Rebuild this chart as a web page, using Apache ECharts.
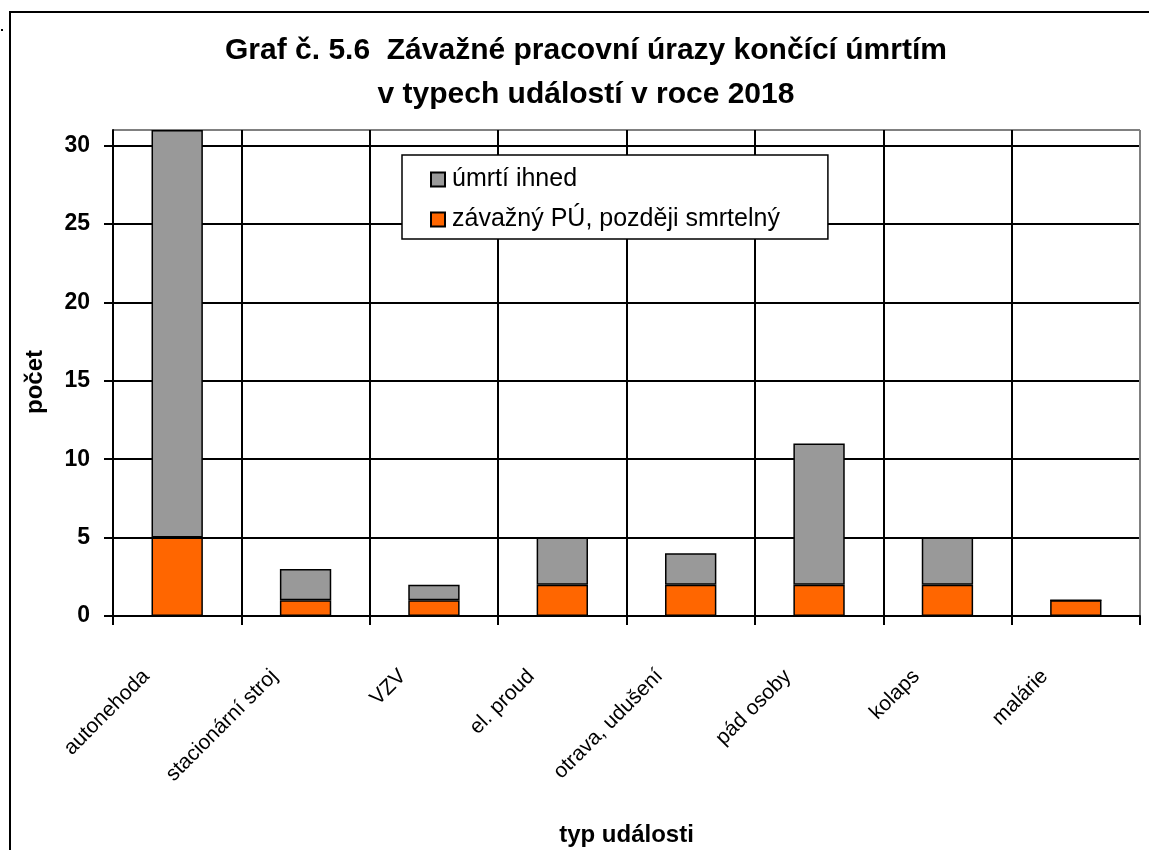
<!DOCTYPE html>
<html>
<head>
<meta charset="utf-8">
<script src="https://cdn.jsdelivr.net/npm/echarts@6/dist/echarts.min.js"></script>
<style>
html,body{margin:0;padding:0;background:#fff;}
#chart{width:1149px;height:850px;}
</style>
</head>
<body>
<div id="chart"></div>
<script>
var categories = ['autonehoda', 'stacionární stroj', 'VZV', 'el. proud', 'otrava, udušení', 'pád osoby', 'kolaps', 'malárie'];
var laterFatal = [5, 1, 1, 2, 2, 2, 2, 1];
var immediateDeath = [26, 2, 1, 3, 2, 9, 3, 0];
var seriesNames = ['úmrtí ihned', 'závažný PÚ, později smrtelný'];
var yTicks = [0, 5, 10, 15, 20, 25, 30];

var FONT = '"Liberation Sans", Arial, sans-serif';
var chart = echarts.init(document.getElementById('chart'), null, {renderer: 'canvas'});

var hLineColors = yTicks.map(function(){ return '#000'; }).concat(['#808080']);
var vLineColors = categories.map(function(){ return '#000'; }).concat(['#808080']);

chart.setOption({
  backgroundColor: '#fff',
  animation: false,
  textStyle: {fontFamily: FONT},
  title: {
    text: 'Graf č. 5.6  Závažné pracovní úrazy končící úmrtím\nv typech událostí v roce 2018',
    left: 581,
    top: 24,
    textAlign: 'center',
    textStyle: {fontFamily: FONT, fontSize: 30, fontWeight: 'bold', color: '#000', lineHeight: 44}
  },
  graphic: [
    {type: 'rect', shape: {x: 10, y: 12, width: 1200, height: 900}, style: {fill: 'none', stroke: '#000', lineWidth: 2}, silent: true},
    {type: 'rect', shape: {x: 1, y: 29, width: 2, height: 2}, style: {fill: '#000'}, silent: true}
  ],
  legend: {
    data: seriesNames,
    orient: 'vertical',
    left: 402,
    top: 155,
    padding: [12, 48, 7, 28],
    itemGap: 15,
    itemWidth: 14,
    itemHeight: 14,
    backgroundColor: '#fff',
    borderColor: '#000',
    borderWidth: 1.5,
    borderRadius: 0,
    icon: 'rect',
    textStyle: {fontFamily: FONT, fontSize: 25, color: '#000', padding: [0, 0, 0, 2]}
  },
  grid: {left: 113, right: 9, top: 130, bottom: 234, containLabel: false, outerBoundsMode: 'none'},
  xAxis: {
    type: 'category',
    data: categories,
    name: 'typ události',
    nameLocation: 'middle',
    nameGap: 207,
    nameTextStyle: {fontFamily: FONT, fontSize: 24, fontWeight: 'bold', color: '#000'},
    axisLine: {show: true, lineStyle: {color: '#000', width: 2}},
    axisTick: {show: true, length: 9, alignWithLabel: false, lineStyle: {color: '#000', width: 2}},
    axisLabel: {rotate: 45, interval: 0, margin: 26, padding: [0, 44, 0, 0], fontFamily: FONT, fontSize: 21, color: '#000'},
    splitLine: {show: true, interval: 0, lineStyle: {color: vLineColors, width: 2}}
  },
  yAxis: {
    type: 'value',
    min: 0,
    max: 31,
    interval: 5,
    name: 'počet',
    nameLocation: 'middle',
    nameGap: 66,
    nameRotate: 90,
    nameTextStyle: {fontFamily: FONT, fontSize: 24, fontWeight: 'bold', color: '#000', padding: [0, 18, 0, 0]},
    axisLine: {show: true, lineStyle: {color: '#000', width: 2}},
    axisTick: {show: true, length: 9, lineStyle: {color: '#000', width: 2}},
    axisLabel: {margin: 23, showMaxLabel: false, fontFamily: FONT, fontSize: 23, fontWeight: 'bold', color: '#000'},
    splitLine: {show: true, lineStyle: {color: hLineColors, width: 2}}
  },
  series: [
    {
      name: seriesNames[1],
      type: 'bar',
      stack: 'total',
      barWidth: '40%',
      data: laterFatal,
      itemStyle: {color: '#FF6600', borderColor: '#000', borderWidth: 1.5}
    },
    {
      name: seriesNames[0],
      type: 'bar',
      stack: 'total',
      barWidth: '40%',
      data: immediateDeath,
      itemStyle: {color: '#999999', borderColor: '#000', borderWidth: 1.5}
    }
  ]
});
</script>
</body>
</html>
